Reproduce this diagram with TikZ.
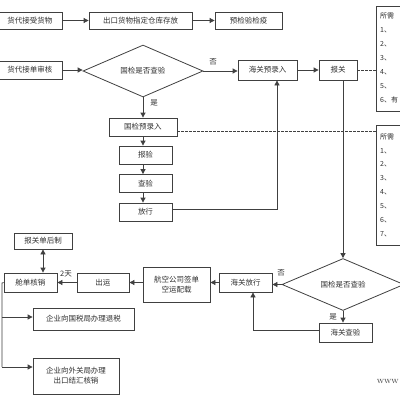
\documentclass[tikz,border=0pt]{standalone}
\usepackage{fontspec}
\newfontfamily\cjk{Noto Sans CJK SC}
\usetikzlibrary{shapes.geometric,arrows.meta}
\definecolor{linec}{HTML}{404040}
\definecolor{txtc}{HTML}{303030}
\tikzset{
  box/.style={draw=linec, line width=0.8pt, fill=white, inner sep=0pt, align=center,
    font=\cjk\fontsize{7.5}{10}\selectfont, text=txtc},
  dia/.style={draw=linec, line width=0.8pt, fill=white, shape=diamond, inner sep=0pt,
    font=\cjk\fontsize{7.5}{10}\selectfont, text=txtc},
  conn/.style={draw=linec, line width=0.8pt},
  arr/.style={conn, -{Triangle[length=5pt,width=5pt]}},
  darr/.style={conn, {Triangle[length=5pt,width=5pt]}-{Triangle[length=5pt,width=5pt]}},
  dashl/.style={draw=linec, line width=0.7pt, dashed, dash pattern=on 2.5pt off 1.5pt},
  lbl/.style={font=\cjk\fontsize{7.5}{9}\selectfont, text=txtc, inner sep=0pt},
  itm/.style={font=\cjk\fontsize{7}{9}\selectfont, text=txtc, inner sep=0pt, anchor=west}
}
\begin{document}
\begin{tikzpicture}[x=1pt,y=-1pt]
\clip (0,0) rectangle (400,400);
\fill[white] (0,0) rectangle (400,400);

% row 1
\node[box, minimum width=64pt, minimum height=17pt] (a1) at (30,20.5) {货代接受货物};
\node[box, minimum width=103pt, minimum height=17pt] (a2) at (140.5,20.5) {出口货物指定仓库存放};
\node[box, minimum width=67pt, minimum height=17pt] (a3) at (248.5,20.5) {预检验检疫};
\draw[arr] (a1) -- (a2);
\draw[arr] (a2) -- (a3);

% row 2
\node[box, minimum width=64pt, minimum height=18pt] (b1) at (30,70) {货代接单审核};
\node[dia, minimum width=120pt, minimum height=48pt] (d1) at (143,71) {国检是否查验};
\node[box, minimum width=59pt, minimum height=20pt] (hgy) at (267.5,70) {海关预录入};
\node[box, minimum width=38pt, minimum height=20pt] (bg) at (338,70) {报关};
\draw[arr] (b1.east) -- (d1.west |- b1.east);
\draw[arr] (d1.east) -- (hgy.west |- d1.east);
\node[lbl] (no1) at (213,62) {否};
\draw[arr] (hgy) -- (bg);

% right info box 1
\node[draw=linec, line width=0.8pt, fill=white, minimum width=40pt, minimum height=105pt, anchor=north west, inner sep=0pt] (rb1) at (376,6) {};
\node[itm] (rb1t) at (380,16) {所需};
\node[itm] (rb1a) at (380,30) {1、};
\node[itm] (rb1b) at (380,44) {2、};
\node[itm] (rb1c) at (380,58) {3、};
\node[itm] (rb1d) at (380,72) {4、};
\node[itm] (rb1e) at (380,86) {5、};
\node[itm] (rb1f) at (380,100) {6、有};
\draw[dashl] (bg.east) -- (rb1.west |- bg.east);

% national inspection column
\node[box, minimum width=68pt, minimum height=18pt] (gjy) at (143,127) {国检预录入};
\draw[arr] (d1.south) -- (gjy.north);
\node[lbl] (yes1) at (154,103) {是};
\node[box, minimum width=53pt, minimum height=18pt] (by) at (145.5,155) {报验};
\node[box, minimum width=53pt, minimum height=18pt] (cy) at (145.5,183.5) {查验};
\node[box, minimum width=53pt, minimum height=18pt] (fx) at (145.5,212) {放行};
\draw[arr] (gjy.south -| 143,0) -- (by.north -| 143,0);
\draw[arr] (by.south -| 143,0) -- (cy.north -| 143,0);
\draw[arr] (cy.south -| 143,0) -- (fx.north -| 143,0);
\coordinate (fxr) at (277,209);
\draw[arr] (fx.east |- fxr) -- (fxr) -- (hgy.south -| fxr);

% right info box 2
\node[draw=linec, line width=0.8pt, fill=white, minimum width=40pt, minimum height=120pt, anchor=north west, inner sep=0pt] (rb2) at (376,125) {};
\node[itm] (rb2t) at (380,137) {所需};
\node[itm] (rb2a) at (380,151) {1、};
\node[itm] (rb2b) at (380,164) {2、};
\node[itm] (rb2c) at (380,178) {3、};
\node[itm] (rb2d) at (380,192) {4、};
\node[itm] (rb2e) at (380,206) {5、};
\node[itm] (rb2f) at (380,220) {6、};
\node[itm] (rb2g) at (380,234) {7、};
\draw[dashl] (gjy.east |- 0,131) -- (rb2.west |- 0,131);

% customs lower part
\node[dia, minimum width=122pt, minimum height=47pt] (d2) at (343,284.5) {国检是否查验};
\coordinate (bgdown) at (343,80);
\draw[arr] (bgdown) -- (d2.north);
\node[box, minimum width=53pt, minimum height=19pt] (hgfx) at (245.5,282.5) {海关放行};
\node[box, minimum width=53pt, minimum height=19pt] (hgcy) at (345.5,332.5) {海关查验};
\draw[arr] (d2.west) -- (hgfx.east |- d2.west);
\node[lbl] (no2) at (281,273) {否};
\draw[arr] (d2.south) -- (hgcy.north -| d2.south);
\node[lbl] (yes2) at (333,317) {是};
\coordinate (hcl) at (253,330);
\draw[arr] (hgcy.west |- hcl) -- (hcl) -- (hgfx.south -| hcl);

% left lower part
\node[box, minimum width=67pt, minimum height=35pt] (hk) at (176.5,284.5) {航空公司签单\\空运配载};
\node[box, minimum width=52pt, minimum height=19pt] (cyun) at (103,282.5) {出运};
\node[box, minimum width=53pt, minimum height=19pt] (cd) at (30.5,282.5) {舱单核销};
\node[box, minimum width=58pt, minimum height=16pt] (bgd) at (43,241) {报关单后制};
\draw[arr] (hgfx.west) -- (hk.east |- hgfx.west);
\draw[arr] (hk.west |- cyun.east) -- (cyun.east);
\draw[arr] (cyun) -- (cd);
\node[lbl] (twod) at (66,274) {2天};
\draw[darr] (bgd.south) -- (cd.north -| bgd.south);

\node[box, minimum width=101pt, minimum height=22pt] (q1) at (83.5,319) {企业向国税局办理退税};
\node[box, minimum width=86pt, minimum height=36pt] (q2) at (76,376) {企业向外关局办理\\出口结汇核销};
\coordinate (lc) at (2,283);
\draw[conn] (cd.west) -- (lc) -- (2,367);
\draw[arr] (2,317) -- (q1.west |- 0,317);
\draw[arr] (2,367) -- (q2.west |- 0,367);

\node[font=\fontsize{6}{7}\selectfont, text=txtc, anchor=east, inner sep=0pt] (wm) at (399,382) {WWW};
\end{tikzpicture}
\end{document}
